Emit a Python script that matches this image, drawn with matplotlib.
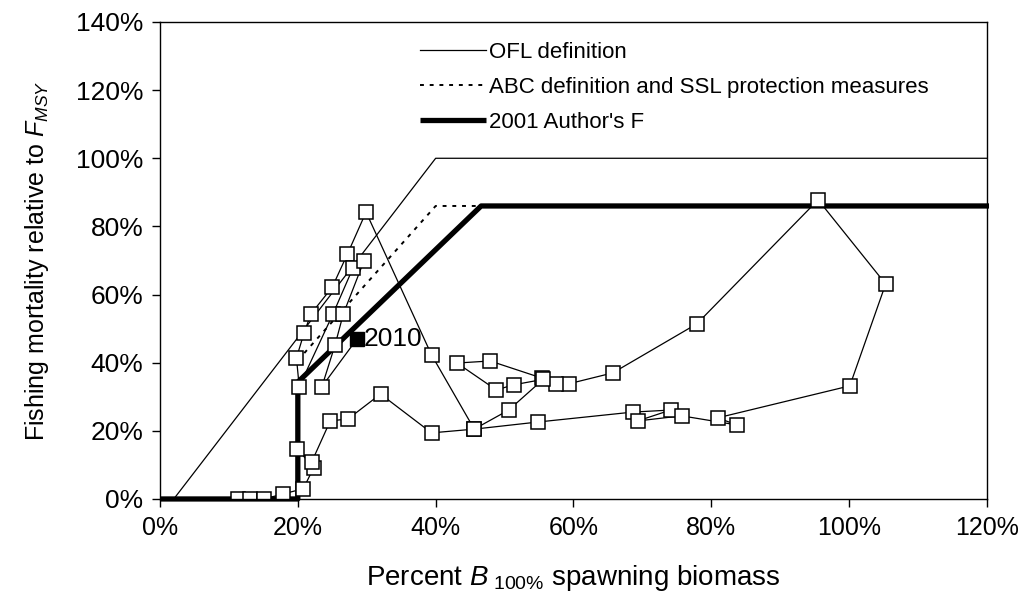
import matplotlib
matplotlib.use("Agg")
import matplotlib.pyplot as plt
from matplotlib.ticker import FuncFormatter, MultipleLocator

plt.rcParams['font.family'] = ['Liberation Sans', 'DejaVu Sans']
plt.rcParams['mathtext.fontset'] = 'custom'
plt.rcParams['mathtext.rm'] = 'Liberation Sans'
plt.rcParams['mathtext.it'] = 'Liberation Sans:italic'

# control rules (percent B100%, percent FMSY)
ofl_b = [0, 2, 40, 120]
ofl_f = [0, 0, 100, 100]
abc_b = [20, 40, 46.6]
abc_f = [40.7, 86, 86]
auth_b = [0, 20, 20, 46.6, 120.3]
auth_f = [0, 0, 34.3, 86, 86]

# stock trajectory, one point per year
traj_b = [11.3, 13.1, 15.1, 17.9, 20.8, 22.3, 19.9, 22.0, 24.7, 27.3,
          32.0, 39.4, 45.6, 54.9, 68.6, 74.1, 69.3, 75.7, 83.8, 80.9,
          100.1, 105.3, 95.5, 77.9, 65.7, 59.3, 57.4, 55.4, 47.9, 43.1,
          48.8, 51.3, 55.6, 50.6, 45.6, 39.4, 29.9, 27.2, 25.0, 21.9,
          20.9, 19.8, 20.2, 25.1, 28.0, 29.6, 26.6, 25.4, 23.5]
traj_f = [0.0, 0.0, 0.0, 1.5, 3.0, 9.2, 14.7, 10.8, 22.9, 23.5,
          30.8, 19.4, 20.5, 22.6, 25.5, 26.1, 22.9, 24.4, 21.7, 23.8,
          33.2, 63.1, 87.8, 51.4, 37.0, 33.8, 33.8, 35.5, 40.5, 39.9,
          32.0, 33.5, 35.1, 26.1, 20.5, 42.3, 84.2, 71.9, 62.2, 54.3,
          48.7, 41.4, 33.0, 54.3, 67.8, 69.9, 54.3, 45.2, 33.0]
last_b = 28.6
last_f = 47.0
last_year = "2010"

fig = plt.figure(figsize=(10.27, 5.96), dpi=100)
ax = fig.add_axes([0.1558, 0.1628, 0.8052, 0.8003])

ax.plot(ofl_b, ofl_f, color='black', lw=0.9, label='OFL definition')
ax.plot(abc_b, abc_f, color='black', lw=1.4, ls=(0, (2, 3)),
        label='ABC definition and SSL protection measures')
ax.plot(auth_b, auth_f, color='black', lw=3.8, label="2001 Author's F",
        clip_on=False, solid_capstyle='butt')

ax.plot([traj_b[-1], last_b], [traj_f[-1], last_f], color='black', lw=0.9)
ax.plot(traj_b, traj_f, color='black', lw=0.9, marker='s', ms=10.5,
        mfc='white', mec='black', mew=1.1)
ax.plot([last_b], [last_f], marker='s', ms=10.5, color='black', ls='none')
ax.text(last_b + 0.9, last_f, last_year, fontsize=19, va='center', ha='left')

ax.set_xlim(0, 120)
ax.set_ylim(0, 140)
ax.xaxis.set_major_locator(MultipleLocator(20))
ax.yaxis.set_major_locator(MultipleLocator(20))
pct = FuncFormatter(lambda v, p: f"{v:.0f}%")
ax.xaxis.set_major_formatter(pct)
ax.yaxis.set_major_formatter(pct)
ax.tick_params(labelsize=18, direction='out', length=6, width=1, pad=6)
ax.tick_params(axis='y', labelsize=19)
for s in ax.spines.values():
    s.set_linewidth(1)

ax.set_xlabel(r"Percent $B_{\ \mathit{100\%}}$ spawning biomass", fontsize=20, labelpad=17)
ax.set_ylabel(r"Fishing mortality relative to $F_{MSY}$", fontsize=18, labelpad=18)

leg = ax.legend(loc='upper left', bbox_to_anchor=(0.314, 0.958), frameon=False,
                fontsize=16, handlelength=3.0, handletextpad=0.1,
                labelspacing=0.62, borderpad=0, borderaxespad=0)

fig.savefig("out.png", dpi=100)
